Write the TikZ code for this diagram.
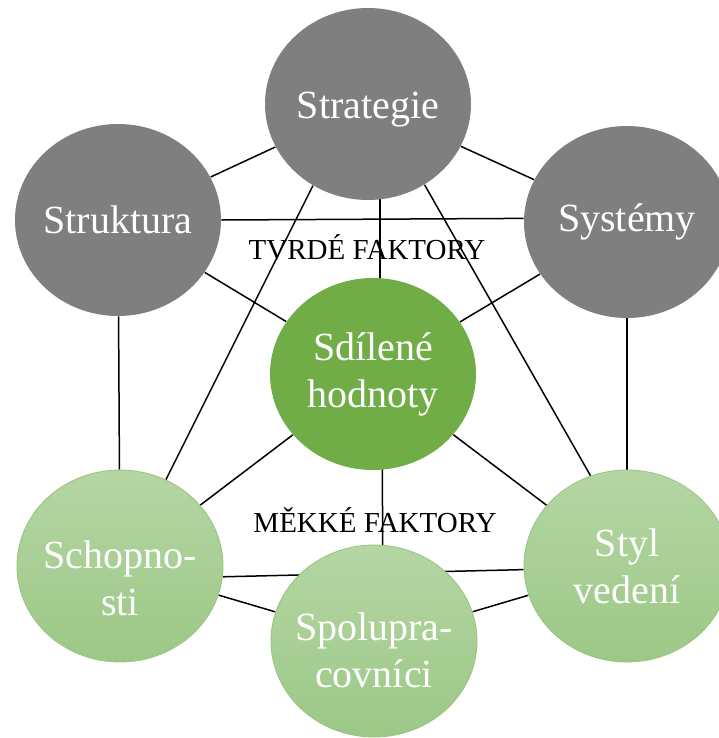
\documentclass[tikz,border=0pt]{standalone}
\usepackage{fontspec}
\setmainfont{Liberation Serif}
\usepackage{xcolor}
\usepackage{tikz}
\usetikzlibrary{shapes.geometric,backgrounds}

\definecolor{hardgray}{RGB}{127,127,127}
\definecolor{coregreen}{RGB}{112,173,71}
\definecolor{softtop}{RGB}{180,214,163}
\definecolor{softbottom}{RGB}{156,200,135}
\definecolor{softedge}{RGB}{150,196,124}

\begin{document}
\begin{tikzpicture}[
  x=0.5pt, y=-0.5pt,
  factor/.style={ellipse, minimum width=103pt, minimum height=96pt, inner sep=-12pt,
                 align=center, text=white, font=\fontsize{20}{23.5}\selectfont},
  hard/.style={factor, fill=hardgray},
  core/.style={factor, fill=coregreen},
  soft/.style={factor, top color=softtop, bottom color=softbottom, draw=softedge, line width=0.4pt},
  caption/.style={font=\fontsize{14.5}{17}\selectfont},
  link/.style={draw, line width=0.75pt}
]
\useasboundingbox (0,0) rectangle (718,738);

% hard factors
\node[hard] (strat) at (368,104) {\rule{0pt}{18.7pt}Strategie};
\node[hard] (strukt) at (118,220) {Struktura};
\node[hard] (syst) at (627,222) {Systémy};

% shared values
\node[core] (sdil) at (373,374) {Sdílené\\hodnoty};

% soft factors (first line strut pushes the text a little lower)
\node[soft] (schop) at (120,566) {\rule{0pt}{25.7pt}Schopno-\\sti};
\node[soft] (styl) at (627,566) {Styl\\vedení};
\node[soft] (spol) at (374,641) {\rule{0pt}{22.7pt}Spolupra-\\covníci};

\node[caption] (hardlbl) at (367,247) {TVRDÉ FAKTORY};
\node[caption] (softlbl) at (375,520) {MĚKKÉ FAKTORY};

\begin{scope}[on background layer]
\path[link] (strat) -- (strukt);
\path[link] (strat) -- (syst);
\path[link] (strukt.east) -- (syst.178);
\path[link] ([xshift=6pt]strat.center) -- ([xshift=3.5pt]sdil.center);
\path[link] (strat.236) -- (schop.62);
\path[link] (strat.305) -- (styl.112);
\path[link] (strukt) -- (sdil);
\path[link] (syst) -- (sdil);
\path[link] (strukt) -- (schop);
\path[link] (syst) -- (styl);
\path[link] (sdil) -- (schop);
\path[link] (sdil) -- (styl);
\path[link] ([xshift=4.5pt]sdil.center) -- ([xshift=4.5pt]spol.center);
\path[link] (schop.-6) -- (styl.182);
\path[link] (schop) -- (spol);
\path[link] (spol) -- (styl);
\end{scope}
\end{tikzpicture}
\end{document}
